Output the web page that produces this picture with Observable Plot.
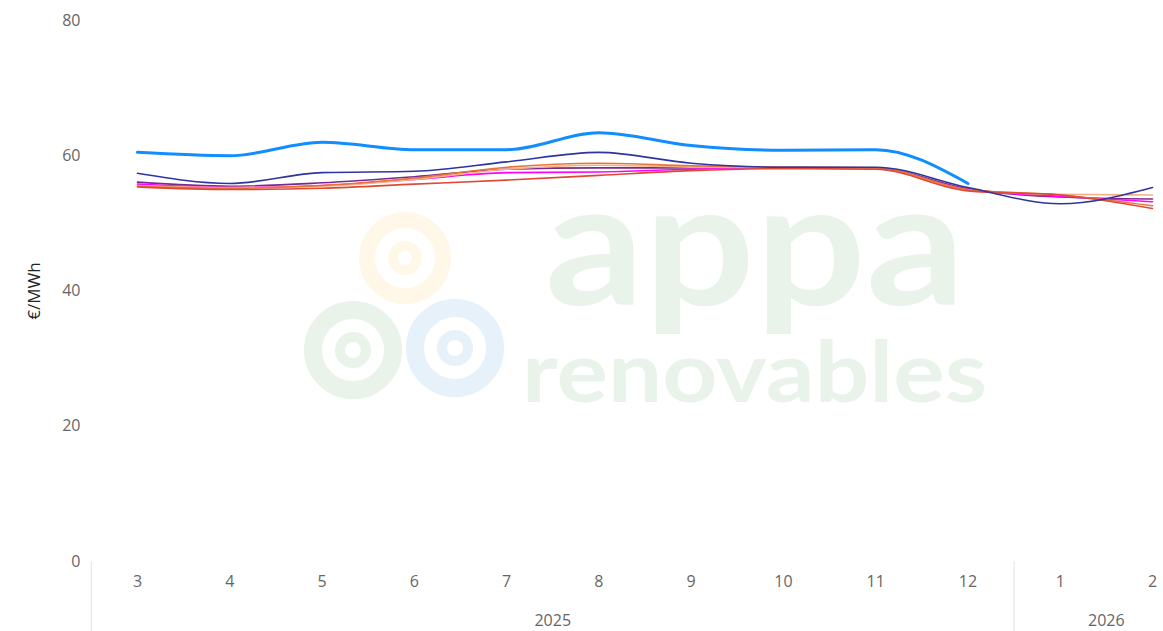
<!DOCTYPE html>
<html>
<head>
<meta charset="utf-8">
<script src="https://cdn.jsdelivr.net/npm/d3@7"></script>
<script src="https://cdn.jsdelivr.net/npm/@observablehq/plot@0.6"></script>
<style>
  html, body { margin: 0; padding: 0; background: #fff; }
  #wrap { position: relative; width: 1163px; height: 631px; overflow: hidden; }
  #wm, #chart { position: absolute; left: 0; top: 0; }
  #chart svg { background: transparent; }
</style>
</head>
<body>
<div id="wrap">
  <svg id="wm" width="1163" height="631">
    <g fill="none" stroke-linecap="round">
      <circle cx="405" cy="258" r="38" stroke="#fff8e8" stroke-width="16"/>
      <circle cx="405" cy="258" r="12" stroke="#fff8e8" stroke-width="10"/>
      <circle cx="353" cy="350" r="40" stroke="#eaf3ea" stroke-width="18"/>
      <circle cx="353" cy="350" r="13" stroke="#eaf3ea" stroke-width="10"/>
      <circle cx="455" cy="348" r="40" stroke="#e6f1fa" stroke-width="18"/>
      <circle cx="455" cy="348" r="13" stroke="#e6f1fa" stroke-width="10"/>
    </g>
    <text x="545" y="305" font-family="Lato, 'Open Sans', sans-serif" font-weight="700" font-size="172" fill="#eaf3ea" textLength="420" lengthAdjust="spacingAndGlyphs">appa</text>
    <text x="522" y="402" font-family="Lato, 'Open Sans', sans-serif" font-weight="700" font-size="84" fill="#eaf3ea" textLength="465" lengthAdjust="spacingAndGlyphs">renovables</text>
  </svg>
  <div id="chart"></div>
</div>
<script>
// ---- data ----
const months = ["3", "4", "5", "6", "7", "8", "9", "10", "11", "12", "1", "2"];
const monthYears = ["2025", "2025", "2025", "2025", "2025", "2025", "2025", "2025", "2025", "2025", "2026", "2026"];
const yTicks = [0, 20, 40, 60, 80];
const yLabel = "€/MWh";

const serieAzul    = [60.5, 60.0, 62.0, 60.9, 60.9, 63.4, 61.5, 60.8, 60.9, 55.9];
const serieMarino  = [57.4, 55.9, 57.5, 57.7, 59.1, 60.5, 58.9, 58.3, 58.3, 55.3, 52.9, 55.3];
const seriePurpura = [56.1, 55.5, 56.0, 56.9, 58.0, 58.2, 58.2, 58.3, 58.2, 55.1, 53.9, 53.6];
const serieMagenta = [55.8, 55.3, 55.6, 56.5, 57.5, 57.6, 58.0, 58.2, 58.1, 55.0, 54.0, 53.2];
const serieMelocoton = [55.6, 55.3, 55.5, 56.5, 58.0, 58.6, 58.3, 58.2, 58.2, 54.9, 54.3, 54.2];
const serieNaranja = [55.5, 55.2, 55.6, 56.7, 58.3, 58.9, 58.5, 58.3, 58.2, 55.0, 54.2, 52.6];
const serieRojo    = [55.4, 55.0, 55.2, 55.8, 56.4, 57.1, 57.8, 58.1, 58.0, 54.8, 54.2, 52.2];

const seriesList = [
  {name: "Púrpura", values: seriePurpura, color: "#7a2a8e", width: 1.6},
  {name: "Magenta", values: serieMagenta, color: "#e048a8", width: 1.6},
  {name: "Melocotón", values: serieMelocoton, color: "#f5b088", width: 1.6},
  {name: "Naranja", values: serieNaranja, color: "#e8743a", width: 1.6},
  {name: "Rojo", values: serieRojo, color: "#dc4a35", width: 1.6},
  {name: "Marino", values: serieMarino, color: "#2e34a0", width: 1.6},
  {name: "Azul", values: serieAzul, color: "#118dff", width: 3}
];

// ---- derived ----
const rows = seriesList.flatMap(s => s.values.map((v, i) => ({serie: s.name, i, v})));
const colorDomain = seriesList.map(s => s.name);
const colorRange = seriesList.map(s => s.color);

const yearGroups = d3.groups(months.map((m, i) => ({i, y: monthYears[i]})), d => d.y);
const yearCenters = yearGroups.map(([y, arr]) => d3.mean(arr, d => d.i));
const yearLabels = yearGroups.map(([y]) => y);
const yearStarts = yearGroups.map(([y, arr]) => d3.min(arr, d => d.i) - 0.5);

const font = "'Segoe UI', 'Open Sans', 'DejaVu Sans', sans-serif";

const chart = Plot.plot({
  width: 1163,
  height: 631,
  marginTop: 20,
  marginBottom: 70,
  marginLeft: 137,
  marginRight: 11,
  style: {fontFamily: font, fontSize: "16px", background: "transparent", overflow: "visible"},
  x: {type: "linear", domain: [0, months.length - 1]},
  y: {type: "linear", domain: [0, 80]},
  color: {domain: colorDomain, range: colorRange},
  marks: [
    Plot.axisY({ticks: yTicks, tickSize: 0, tickPadding: 57, fontSize: 16, color: "#666", label: null}),
    Plot.axisY({ticks: [], tickSize: 0, fontSize: 17, color: "#252423",
      label: yLabel, labelAnchor: "center", labelArrow: "none", labelOffset: 110}),
    Plot.axisX({ticks: d3.range(months.length), tickFormat: i => months[i], tickSize: 0,
      tickPadding: 14, fontSize: 16, color: "#666", label: null}),
    Plot.axisX({ticks: yearCenters, tickFormat: (d, k) => yearLabels[k], tickSize: 0,
      tickPadding: 53, fontSize: 16, color: "#666", label: null}),
    Plot.axisX({ticks: yearStarts, tickFormat: () => "", tickSize: 70, stroke: "#e6e6e6",
      strokeWidth: 1.2, label: null}),
    ...seriesList.map(s => Plot.line(rows.filter(r => r.serie === s.name), {
      x: "i", y: "v", stroke: "serie", strokeWidth: s.width, curve: "monotone-x"
    }))
  ]
});
document.getElementById("chart").appendChild(chart);
</script>
</body>
</html>
